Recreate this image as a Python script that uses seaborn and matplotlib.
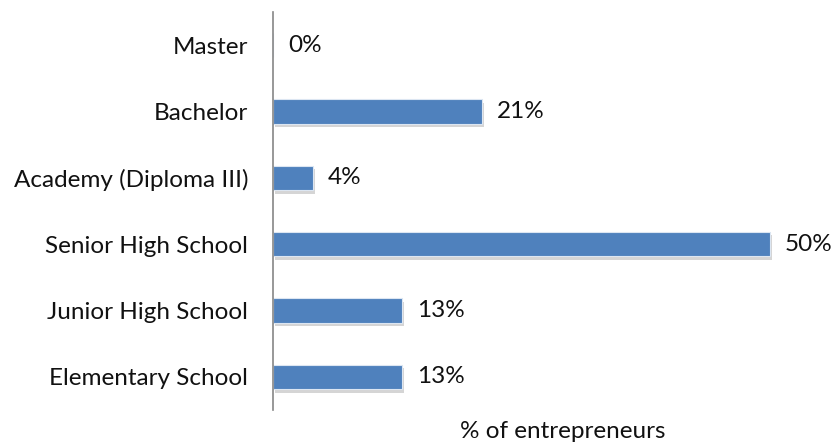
import matplotlib
matplotlib.use("Agg")
import matplotlib.pyplot as plt
import matplotlib.patheffects as pe
import seaborn as sns
import pandas as pd

levels = ["Master", "Bachelor", "Academy (Diploma III)", "Senior High School",
          "Junior High School", "Elementary School"]
shares = [0, 21, 4, 50, 13, 13]
value_labels = ["0%", "21%", "4%", "50%", "13%", "13%"]

sns.set_theme(style="white")
plt.rcParams["font.family"] = ["Lato", "DejaVu Sans"]

FS = 17.5
df = pd.DataFrame({"level": levels, "share": shares})

fig = plt.figure(figsize=(8.33, 4.45), dpi=100)
ax = fig.add_axes([273 / 833, 35 / 445, 560 / 833, 398 / 445])

sns.barplot(data=df, y="level", x="share", orient="h", color="#4F81BD",
            saturation=1, width=0.37, edgecolor="#DCE6F2", linewidth=0.8, ax=ax)

for patch in ax.patches:
    patch.set_path_effects([pe.SimplePatchShadow(offset=(1.5, -2.5), shadow_rgbFace="#888888", alpha=0.35),
                            pe.Normal()])

for i, (v, lab) in enumerate(zip(shares, value_labels)):
    ax.text(v + 1.5, i, lab, va="center", ha="left", fontsize=FS, color="#111111", clip_on=False)

ax.set_xlim(0, 560 / 9.94)
ax.set_ylim(len(levels) - 0.5, -0.5)
ax.set_xticks([])
ax.set_xlabel("")
ax.set_ylabel("")
ax.tick_params(axis="y", length=0, pad=18, labelsize=FS, labelcolor="#111111")
for s in ["top", "right", "bottom"]:
    ax.spines[s].set_visible(False)
ax.spines["left"].set_color("#868686")
ax.spines["left"].set_linewidth(1.2)

fig.text(563 / 833, 1 - 432 / 445, "% of entrepreneurs", ha="center", va="center",
         fontsize=FS, color="#111111")

fig.savefig("out.png", dpi=100)
